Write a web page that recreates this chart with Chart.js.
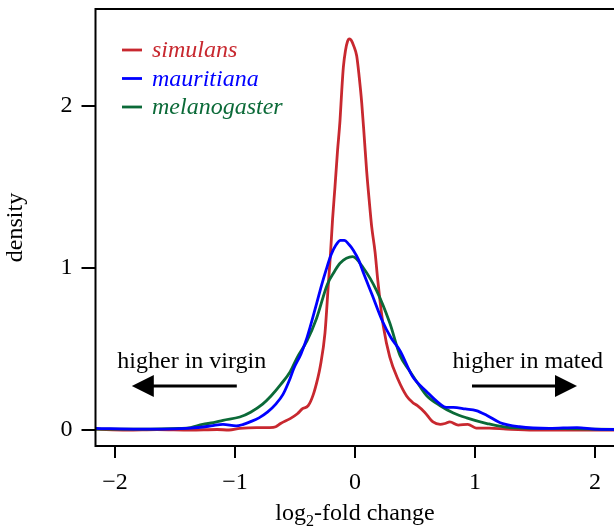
<!DOCTYPE html>
<html>
<head>
<meta charset="utf-8">
<script src="https://cdn.jsdelivr.net/npm/chart.js"></script>
<style>
  html, body { margin: 0; padding: 0; background: #fff; overflow: hidden; }
  #wrap { width: 614px; height: 530px; overflow: hidden; }
  canvas { display: block; }
</style>
</head>
<body>
<div id="wrap"><canvas id="densityChart" width="616" height="530"></canvas></div>
<script>
// species names (legend order)
const speciesNames = ['simulans', 'mauritiana', 'melanogaster'];
const speciesColors = ['#c8282f', '#0000ff', '#0b6a38'];

// density curves: log2-fold change (x) and density (y)
const simulansX = [-2.16, -1.9, -1.65, -1.37, -1.15, -1.05, -0.96, -0.82, -0.71, -0.66, -0.62, -0.54, -0.48, -0.44, -0.39, -0.347, -0.31, -0.29, -0.25, -0.222, -0.205, -0.187, -0.167, -0.146, -0.125, -0.11, -0.097, -0.08, -0.062, -0.047, -0.03, -0.01, 0.014, 0.035, 0.056, 0.077, 0.097, 0.118, 0.139, 0.167, 0.189, 0.208, 0.236, 0.29, 0.36, 0.43, 0.48, 0.52, 0.58, 0.65, 0.71, 0.75, 0.79, 0.86, 0.94, 1.01, 1.12, 1.26, 1.49, 1.8, 2.18];
const simulansY = [0.005, 0.0, 0.003, 0.0, 0.003, 0.0, 0.01, 0.015, 0.015, 0.02, 0.04, 0.07, 0.1, 0.13, 0.15, 0.22, 0.32, 0.39, 0.6, 0.9, 1.08, 1.3, 1.5, 1.72, 1.91, 2.1, 2.24, 2.34, 2.4, 2.415, 2.405, 2.37, 2.31, 2.18, 2.02, 1.81, 1.6, 1.42, 1.255, 1.1, 0.93, 0.8, 0.64, 0.45, 0.31, 0.21, 0.17, 0.15, 0.11, 0.05, 0.035, 0.04, 0.05, 0.03, 0.035, 0.012, 0.012, 0.006, 0.0, 0.0, 0.0];

const mauritianaX = [-2.16, -1.8, -1.37, -1.2, -1.1, -0.99, -0.93, -0.875, -0.8, -0.73, -0.66, -0.6, -0.54, -0.51, -0.45, -0.4, -0.32, -0.28, -0.24, -0.2, -0.16, -0.12, -0.09, -0.05, -0.014, 0.03, 0.07, 0.14, 0.23, 0.3, 0.375, 0.48, 0.6, 0.71, 0.76, 0.82, 0.92, 1.01, 1.1, 1.21, 1.37, 1.62, 1.85, 2.0, 2.18];
const mauritianaY = [0.01, 0.005, 0.012, 0.025, 0.035, 0.025, 0.035, 0.05, 0.075, 0.11, 0.16, 0.22, 0.32, 0.38, 0.47, 0.57, 0.78, 0.89, 0.99, 1.08, 1.14, 1.17, 1.17, 1.145, 1.11, 1.05, 0.97, 0.84, 0.67, 0.57, 0.49, 0.33, 0.235, 0.16, 0.14, 0.14, 0.13, 0.12, 0.09, 0.045, 0.02, 0.01, 0.015, 0.005, 0.003];

const melanogasterX = [-2.16, -1.8, -1.46, -1.37, -1.27, -1.18, -1.1, -0.96, -0.87, -0.77, -0.7, -0.62, -0.54, -0.48, -0.4, -0.32, -0.23, -0.17, -0.125, -0.02, 0.07, 0.18, 0.29, 0.375, 0.45, 0.54, 0.6, 0.71, 0.82, 0.93, 1.1, 1.29, 1.62, 2.18];
const melanogasterY = [0.005, 0.005, 0.01, 0.015, 0.035, 0.045, 0.06, 0.08, 0.11, 0.16, 0.21, 0.28, 0.36, 0.45, 0.55, 0.69, 0.9, 0.98, 1.03, 1.07, 1.0, 0.86, 0.66, 0.46, 0.37, 0.27, 0.21, 0.15, 0.105, 0.075, 0.04, 0.015, 0.01, 0.003];

// axis ticks
const xTickValues = [-2, -1, 0, 1, 2];
const xTickLabels = ['\u22122', '\u22121', '0', '1', '2'];
const yTickValues = [0, 1, 2];
const yTickLabels = ['0', '1', '2'];

const serif = '"Liberation Serif", "Times New Roman", serif';

const toPoints = (xs, ys) => xs.map((x, i) => ({ x: x, y: ys[i] }));

// legend, annotations, axis titles, frame
const extrasPlugin = {
  id: 'extras',
  afterDraw(chart) {
    const ctx = chart.ctx;
    const area = chart.chartArea;
    const xs = chart.scales.x;
    const ys = chart.scales.y;
    ctx.save();

    // box
    ctx.strokeStyle = '#000';
    ctx.lineWidth = 2;
    ctx.strokeRect(area.left, area.top, area.right - area.left, area.bottom - area.top);

    // legend
    ctx.font = 'italic 24px ' + serif;
    ctx.textAlign = 'left';
    ctx.textBaseline = 'alphabetic';
    ctx.lineWidth = 2.8;
    speciesNames.forEach((name, i) => {
      const y = 50 + i * 28.5;
      ctx.strokeStyle = speciesColors[i];
      ctx.beginPath();
      ctx.moveTo(122, y);
      ctx.lineTo(142, y);
      ctx.stroke();
      ctx.fillStyle = speciesColors[i];
      ctx.fillText(name, 152, y + 7);
    });

    // annotations with arrows
    ctx.fillStyle = '#000';
    ctx.strokeStyle = '#000';
    ctx.font = '24px ' + serif;
    ctx.textAlign = 'center';
    ctx.fillText('higher in virgin', xs.getPixelForValue(-1.36), ys.getPixelForValue(0.38));
    ctx.fillText('higher in mated', xs.getPixelForValue(1.44), ys.getPixelForValue(0.38));

    const arrow = (x0, x1, yv) => {
      const p0 = xs.getPixelForValue(x0);
      const p1 = xs.getPixelForValue(x1);
      const py = ys.getPixelForValue(yv);
      const dir = Math.sign(p1 - p0);
      const head = 22;
      ctx.lineWidth = 3;
      ctx.beginPath();
      ctx.moveTo(p0, py);
      ctx.lineTo(p1 - dir * head * 0.8, py);
      ctx.stroke();
      ctx.beginPath();
      ctx.moveTo(p1, py);
      ctx.lineTo(p1 - dir * head, py - 11);
      ctx.lineTo(p1 - dir * head, py + 11);
      ctx.closePath();
      ctx.fill();
    };
    arrow(-0.985, -1.86, 0.272);
    arrow(0.975, 1.85, 0.272);

    // y title
    ctx.save();
    ctx.translate(22, (area.top + area.bottom) / 2);
    ctx.rotate(-Math.PI / 2);
    ctx.textAlign = 'center';
    ctx.fillText('density', 0, 0);
    ctx.restore();

    // x title with subscript
    const big = '24px ' + serif;
    const small = '16px ' + serif;
    ctx.textAlign = 'left';
    ctx.font = big;
    const w1 = ctx.measureText('log').width;
    const w3 = ctx.measureText('-fold change').width;
    ctx.font = small;
    const w2 = ctx.measureText('2').width;
    const cx = xs.getPixelForValue(0);
    let tx = cx - (w1 + w2 + w3) / 2;
    const base = 520;
    ctx.font = big;
    ctx.fillText('log', tx, base);
    tx += w1;
    ctx.font = small;
    ctx.fillText('2', tx, base + 6);
    tx += w2;
    ctx.font = big;
    ctx.fillText('-fold change', tx, base);

    ctx.restore();
  }
};

const datasets = [
  { label: speciesNames[0], data: toPoints(simulansX, simulansY), borderColor: speciesColors[0], order: 2 },
  { label: speciesNames[1], data: toPoints(mauritianaX, mauritianaY), borderColor: speciesColors[1], order: 0 },
  { label: speciesNames[2], data: toPoints(melanogasterX, melanogasterY), borderColor: speciesColors[2], order: 1 }
].map(d => Object.assign(d, {
  borderWidth: 2.8,
  pointRadius: 0,
  fill: false,
  cubicInterpolationMode: 'monotone'
}));

new Chart(document.getElementById('densityChart'), {
  type: 'line',
  data: { datasets: datasets },
  plugins: [extrasPlugin],
  options: {
    responsive: false,
    animation: false,
    devicePixelRatio: 1,
    layout: { padding: { top: 9, left: 0, right: 0, bottom: 0 } },
    plugins: { legend: { display: false }, tooltip: { enabled: false } },
    scales: {
      x: {
        type: 'linear',
        min: -2.1625,
        max: 2.175,
        afterFit: s => { s.height = 84; s.paddingLeft = 0; s.paddingRight = 0; },
        afterBuildTicks: s => { s.ticks = xTickValues.map(v => ({ value: v })); },
        grid: { drawOnChartArea: false, color: '#000', lineWidth: 2, tickLength: 12 },
        border: { display: false },
        ticks: {
          color: '#000',
          padding: 10,
          maxRotation: 0,
          font: { family: serif, size: 24 },
          callback: (v) => xTickLabels[xTickValues.indexOf(v)]
        }
      },
      y: {
        min: -0.0988,
        max: 2.599,
        afterFit: s => { s.width = 95.5; s.paddingTop = 0; s.paddingBottom = 0; },
        afterBuildTicks: s => { s.ticks = yTickValues.map(v => ({ value: v })); },
        grid: { drawOnChartArea: false, color: '#000', lineWidth: 2, tickLength: 14 },
        border: { display: false },
        ticks: {
          color: '#000',
          padding: 9,
          font: { family: serif, size: 24 },
          callback: (v) => yTickLabels[yTickValues.indexOf(v)]
        }
      }
    }
  }
});
</script>
</body>
</html>
